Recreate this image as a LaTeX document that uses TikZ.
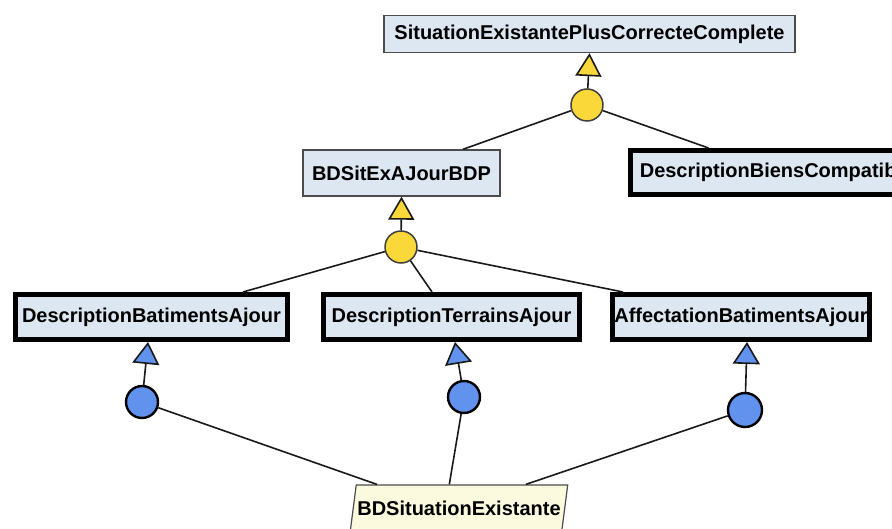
\documentclass[tikz,border=0pt]{standalone}
\usepackage{fontspec}
\setmainfont{Liberation Sans}
\usetikzlibrary{arrows.meta, shapes.geometric, calc}
\definecolor{boxblue}{RGB}{220,231,242}
\definecolor{joinyellow}{RGB}{250,216,58}
\definecolor{joinblue}{RGB}{96,146,238}
\definecolor{dbyellow}{RGB}{252,250,222}

\begin{document}
\begin{tikzpicture}[x=1pt, y=-1pt,
  font=\fontsize{20}{24}\selectfont\bfseries,
  classbox/.style={rectangle, draw=black!70, line width=1.4pt, fill=boxblue, inner sep=0pt},
  keybox/.style={rectangle, draw=black, line width=5pt, fill=boxblue, inner sep=0pt},
  yjoin/.style={circle, draw=black!75, line width=1.5pt, fill=joinyellow, minimum size=32pt, inner sep=0pt},
  bjoin/.style={circle, draw=black, line width=2.4pt, fill=joinblue, minimum size=32pt, inner sep=0pt},
  link/.style={draw=black!90, line width=1.6pt},
  ytip/.style={-{Triangle[width=26pt, length=23pt, fill=joinyellow]}},
  btip/.style={-{Triangle[width=27pt, length=22pt, fill=joinblue]}}]
\useasboundingbox (0,0) rectangle (892,529);
\clip (0,0) rectangle (892,529);

\node (top) [classbox, minimum width=411pt, minimum height=37pt] at (589.5,34) {SituationExistantePlusCorrecteComplete};
\node (yc1) [yjoin] at (587,105) {};
\node (bdsit) [classbox, minimum width=197pt, minimum height=46pt] at (401.5,173) {BDSitExAJourBDP};
\node (dbc) [keybox, minimum width=292pt, minimum height=44pt] at (776.5,172.5) {DescriptionBiensCompatible};
\node (yc2) [yjoin] at (401,247) {};
\node (dba) [keybox, minimum width=272pt, minimum height=45pt] at (151.5,317) {DescriptionBatimentsAjour};
\node (dta) [keybox, minimum width=256pt, minimum height=45pt] at (451.5,317) {DescriptionTerrainsAjour};
\node (aba) [keybox, minimum width=257pt, minimum height=45pt] at (741,317) {AffectationBatimentsAjour};
\node (bc1) [bjoin] at (142,402) {};
\node (bc2) [bjoin] at (464,397) {};
\node (bc3) [bjoin, minimum size=34pt] at (745,410) {};
\node (bdse) [trapezium, trapezium left angle=70, trapezium right angle=110, trapezium stretches=true,
  draw=black!70, line width=1.2pt, fill=dbyellow, minimum width=218pt, minimum height=46pt, inner sep=0pt]
  at (459,508) {\makebox[185pt]{BDSituationExistante}};

% upper join
\draw[link, ytip] (yc1) -- (top.south);
\draw[link] (yc1) -- ([xshift=61.5pt]bdsit.north);
\draw[link] (yc1) -- ([xshift=-68pt]dbc.north);

% middle join
\draw[link, ytip] (yc2) -- (bdsit.south);
\draw[link] (yc2) -- ([xshift=91.5pt]dba.north);
\draw[link] (yc2) -- ([xshift=-19.5pt]dta.north);
\draw[link] (yc2) -- ([xshift=-118pt]aba.north);

% lower joins
\draw[link, btip] (bc1) -- ([xshift=-3.5pt]dba.south);
\draw[link, btip] (bc2) -- ([xshift=3.5pt]dta.south);
\draw[link, btip] (bc3) -- ([xshift=6pt]aba.south);
\draw[link] (bc1) -- ($(bdse.top left corner)!0.1!(bdse.top right corner)$);
\draw[link] (bc2) -- ($(bdse.top left corner)!0.44!(bdse.top right corner)$);
\draw[link] (bc3) -- ($(bdse.top left corner)!0.8!(bdse.top right corner)$);
\end{tikzpicture}
\end{document}
